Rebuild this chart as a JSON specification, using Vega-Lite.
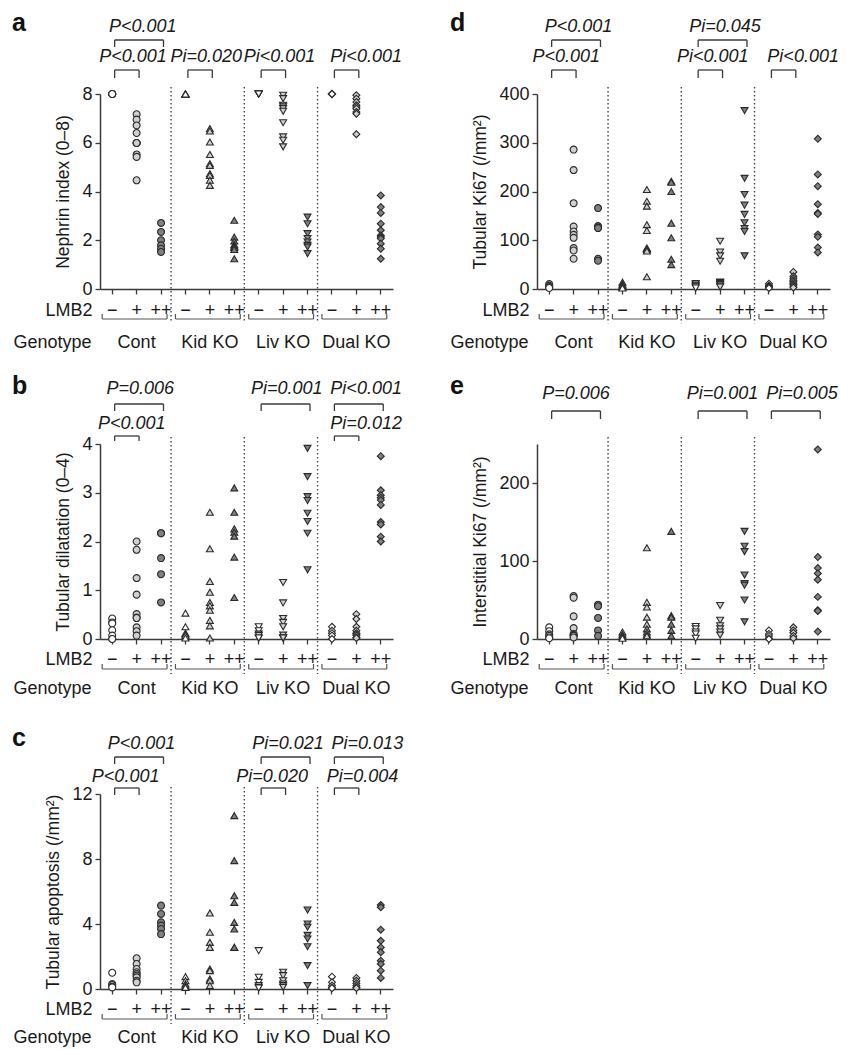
{
"$schema": "https://vega.github.io/schema/vega-lite/v6.json",
"padding": {"left": 12, "top": 11, "right": 5, "bottom": 5},
"background": "white",
"datasets": {
"geno": [{"genotype": "Cont"}, {"genotype": "Kid KO"}, {"genotype": "Liv KO"}, {"genotype": "Dual KO"}],
"ann": [
{"panel": "a", "from": "Cont|−", "to": "Cont|+", "label": "P<0.001"},
{"panel": "a", "from": "Cont|−", "to": "Cont|++", "label": "P<0.001"},
{"panel": "a", "from": "Kid KO|−", "to": "Kid KO|+", "label": "Pi=0.020"},
{"panel": "a", "from": "Liv KO|−", "to": "Liv KO|+", "label": "Pi<0.001"},
{"panel": "a", "from": "Dual KO|−", "to": "Dual KO|+", "label": "Pi<0.001"},
{"panel": "b", "from": "Cont|−", "to": "Cont|++", "label": "P=0.006"},
{"panel": "b", "from": "Cont|−", "to": "Cont|+", "label": "P<0.001"},
{"panel": "b", "from": "Liv KO|−", "to": "Liv KO|++", "label": "Pi=0.001"},
{"panel": "b", "from": "Dual KO|−", "to": "Dual KO|++", "label": "Pi<0.001"},
{"panel": "b", "from": "Dual KO|−", "to": "Dual KO|+", "label": "Pi=0.012"},
{"panel": "c", "from": "Cont|−", "to": "Cont|++", "label": "P<0.001"},
{"panel": "c", "from": "Cont|−", "to": "Cont|+", "label": "P<0.001"},
{"panel": "c", "from": "Liv KO|−", "to": "Liv KO|++", "label": "Pi=0.021"},
{"panel": "c", "from": "Liv KO|−", "to": "Liv KO|+", "label": "Pi=0.020"},
{"panel": "c", "from": "Dual KO|−", "to": "Dual KO|++", "label": "Pi=0.013"},
{"panel": "c", "from": "Dual KO|−", "to": "Dual KO|+", "label": "Pi=0.004"},
{"panel": "d", "from": "Cont|−", "to": "Cont|++", "label": "P<0.001"},
{"panel": "d", "from": "Cont|−", "to": "Cont|+", "label": "P<0.001"},
{"panel": "d", "from": "Liv KO|−", "to": "Liv KO|++", "label": "Pi=0.045"},
{"panel": "d", "from": "Liv KO|−", "to": "Liv KO|+", "label": "Pi<0.001"},
{"panel": "d", "from": "Dual KO|−", "to": "Dual KO|+", "label": "Pi<0.001"},
{"panel": "e", "from": "Cont|−", "to": "Cont|++", "label": "P=0.006"},
{"panel": "e", "from": "Liv KO|−", "to": "Liv KO|++", "label": "Pi=0.001"},
{"panel": "e", "from": "Dual KO|−", "to": "Dual KO|++", "label": "Pi=0.005"}
],
"pts": [
{"panel":"a","group":"Cont|−","value":8},{"panel":"a","group":"Cont|−","value":8},{"panel":"a","group":"Cont|−","value":8},{"panel":"a","group":"Cont|−","value":8},{"panel":"a","group":"Cont|−","value":8},
{"panel":"a","group":"Cont|+","value":7.17},{"panel":"a","group":"Cont|+","value":6.95},{"panel":"a","group":"Cont|+","value":6.71},{"panel":"a","group":"Cont|+","value":6.4},{"panel":"a","group":"Cont|+","value":5.99},{"panel":"a","group":"Cont|+","value":5.99},{"panel":"a","group":"Cont|+","value":5.99},{"panel":"a","group":"Cont|+","value":5.52},{"panel":"a","group":"Cont|+","value":5.42},{"panel":"a","group":"Cont|+","value":4.46},
{"panel":"a","group":"Cont|++","value":2.71},{"panel":"a","group":"Cont|++","value":2.34},{"panel":"a","group":"Cont|++","value":2.0},{"panel":"a","group":"Cont|++","value":1.79},{"panel":"a","group":"Cont|++","value":1.65},{"panel":"a","group":"Cont|++","value":1.52},
{"panel":"a","group":"Kid KO|−","value":8},{"panel":"a","group":"Kid KO|−","value":8},{"panel":"a","group":"Kid KO|−","value":8},{"panel":"a","group":"Kid KO|−","value":8},{"panel":"a","group":"Kid KO|−","value":8},
{"panel":"a","group":"Kid KO|+","value":6.58},{"panel":"a","group":"Kid KO|+","value":6.48},{"panel":"a","group":"Kid KO|+","value":6.03},{"panel":"a","group":"Kid KO|+","value":5.52},{"panel":"a","group":"Kid KO|+","value":5.14},{"panel":"a","group":"Kid KO|+","value":5.07},{"panel":"a","group":"Kid KO|+","value":4.73},{"panel":"a","group":"Kid KO|+","value":4.66},{"panel":"a","group":"Kid KO|+","value":4.46},{"panel":"a","group":"Kid KO|+","value":4.25},
{"panel":"a","group":"Kid KO|++","value":2.82},{"panel":"a","group":"Kid KO|++","value":2.13},{"panel":"a","group":"Kid KO|++","value":1.97},{"panel":"a","group":"Kid KO|++","value":1.82},{"panel":"a","group":"Kid KO|++","value":1.76},{"panel":"a","group":"Kid KO|++","value":1.7},{"panel":"a","group":"Kid KO|++","value":1.62},{"panel":"a","group":"Kid KO|++","value":1.24},
{"panel":"a","group":"Liv KO|−","value":8},{"panel":"a","group":"Liv KO|−","value":8},{"panel":"a","group":"Liv KO|−","value":8},{"panel":"a","group":"Liv KO|−","value":8},{"panel":"a","group":"Liv KO|−","value":8},
{"panel":"a","group":"Liv KO|+","value":7.95},{"panel":"a","group":"Liv KO|+","value":7.81},{"panel":"a","group":"Liv KO|+","value":7.54},{"panel":"a","group":"Liv KO|+","value":7.47},{"panel":"a","group":"Liv KO|+","value":7.4},{"panel":"a","group":"Liv KO|+","value":7.29},{"panel":"a","group":"Liv KO|+","value":6.82},{"panel":"a","group":"Liv KO|+","value":6.24},{"panel":"a","group":"Liv KO|+","value":6.1},{"panel":"a","group":"Liv KO|+","value":5.83},
{"panel":"a","group":"Liv KO|++","value":2.95},{"panel":"a","group":"Liv KO|++","value":2.68},{"panel":"a","group":"Liv KO|++","value":2.27},{"panel":"a","group":"Liv KO|++","value":2.07},{"panel":"a","group":"Liv KO|++","value":1.93},{"panel":"a","group":"Liv KO|++","value":1.79},{"panel":"a","group":"Liv KO|++","value":1.72},{"panel":"a","group":"Liv KO|++","value":1.45},
{"panel":"a","group":"Dual KO|−","value":8},{"panel":"a","group":"Dual KO|−","value":8},{"panel":"a","group":"Dual KO|−","value":8},{"panel":"a","group":"Dual KO|−","value":8},{"panel":"a","group":"Dual KO|−","value":8},
{"panel":"a","group":"Dual KO|+","value":7.95},{"panel":"a","group":"Dual KO|+","value":7.81},{"panel":"a","group":"Dual KO|+","value":7.67},{"panel":"a","group":"Dual KO|+","value":7.54},{"panel":"a","group":"Dual KO|+","value":7.47},{"panel":"a","group":"Dual KO|+","value":7.4},{"panel":"a","group":"Dual KO|+","value":7.26},{"panel":"a","group":"Dual KO|+","value":7.19},{"panel":"a","group":"Dual KO|+","value":6.35},
{"panel":"a","group":"Dual KO|++","value":3.84},{"panel":"a","group":"Dual KO|++","value":3.36},{"panel":"a","group":"Dual KO|++","value":3.12},{"panel":"a","group":"Dual KO|++","value":2.68},{"panel":"a","group":"Dual KO|++","value":2.41},{"panel":"a","group":"Dual KO|++","value":2.2},{"panel":"a","group":"Dual KO|++","value":2.13},{"panel":"a","group":"Dual KO|++","value":2.07},{"panel":"a","group":"Dual KO|++","value":1.86},{"panel":"a","group":"Dual KO|++","value":1.65},{"panel":"a","group":"Dual KO|++","value":1.24},

{"panel":"b","group":"Cont|−","value":0.42},{"panel":"b","group":"Cont|−","value":0.34},{"panel":"b","group":"Cont|−","value":0.32},{"panel":"b","group":"Cont|−","value":0.18},{"panel":"b","group":"Cont|−","value":0.07},{"panel":"b","group":"Cont|−","value":0},{"panel":"b","group":"Cont|−","value":0},
{"panel":"b","group":"Cont|+","value":2.0},{"panel":"b","group":"Cont|+","value":1.83},{"panel":"b","group":"Cont|+","value":1.25},{"panel":"b","group":"Cont|+","value":0.91},{"panel":"b","group":"Cont|+","value":0.51},{"panel":"b","group":"Cont|+","value":0.44},{"panel":"b","group":"Cont|+","value":0.43},{"panel":"b","group":"Cont|+","value":0.24},{"panel":"b","group":"Cont|+","value":0.16},{"panel":"b","group":"Cont|+","value":0.07},
{"panel":"b","group":"Cont|++","value":2.17},{"panel":"b","group":"Cont|++","value":2.17},{"panel":"b","group":"Cont|++","value":1.66},{"panel":"b","group":"Cont|++","value":1.33},{"panel":"b","group":"Cont|++","value":0.75},
{"panel":"b","group":"Kid KO|−","value":0.53},{"panel":"b","group":"Kid KO|−","value":0.25},{"panel":"b","group":"Kid KO|−","value":0.12},{"panel":"b","group":"Kid KO|−","value":0.1},{"panel":"b","group":"Kid KO|−","value":0.07},{"panel":"b","group":"Kid KO|−","value":0.02},
{"panel":"b","group":"Kid KO|+","value":2.6},{"panel":"b","group":"Kid KO|+","value":1.85},{"panel":"b","group":"Kid KO|+","value":1.18},{"panel":"b","group":"Kid KO|+","value":0.96},{"panel":"b","group":"Kid KO|+","value":0.75},{"panel":"b","group":"Kid KO|+","value":0.68},{"panel":"b","group":"Kid KO|+","value":0.59},{"panel":"b","group":"Kid KO|+","value":0.38},{"panel":"b","group":"Kid KO|+","value":0.27},{"panel":"b","group":"Kid KO|+","value":0.02},
{"panel":"b","group":"Kid KO|++","value":3.1},{"panel":"b","group":"Kid KO|++","value":2.6},{"panel":"b","group":"Kid KO|++","value":2.26},{"panel":"b","group":"Kid KO|++","value":2.19},{"panel":"b","group":"Kid KO|++","value":2.11},{"panel":"b","group":"Kid KO|++","value":1.68},{"panel":"b","group":"Kid KO|++","value":0.85},
{"panel":"b","group":"Liv KO|−","value":0.25},{"panel":"b","group":"Liv KO|−","value":0.17},{"panel":"b","group":"Liv KO|−","value":0.1},{"panel":"b","group":"Liv KO|−","value":0.07},{"panel":"b","group":"Liv KO|−","value":0.02},{"panel":"b","group":"Liv KO|−","value":0.02},
{"panel":"b","group":"Liv KO|+","value":1.16},{"panel":"b","group":"Liv KO|+","value":0.74},{"panel":"b","group":"Liv KO|+","value":0.42},{"panel":"b","group":"Liv KO|+","value":0.34},{"panel":"b","group":"Liv KO|+","value":0.25},{"panel":"b","group":"Liv KO|+","value":0.08},{"panel":"b","group":"Liv KO|+","value":0.02},{"panel":"b","group":"Liv KO|+","value":0.02},{"panel":"b","group":"Liv KO|+","value":0.02},
{"panel":"b","group":"Liv KO|++","value":3.91},{"panel":"b","group":"Liv KO|++","value":3.33},{"panel":"b","group":"Liv KO|++","value":2.92},{"panel":"b","group":"Liv KO|++","value":2.84},{"panel":"b","group":"Liv KO|++","value":2.58},{"panel":"b","group":"Liv KO|++","value":2.41},{"panel":"b","group":"Liv KO|++","value":2.17},{"panel":"b","group":"Liv KO|++","value":1.42},
{"panel":"b","group":"Dual KO|−","value":0.25},{"panel":"b","group":"Dual KO|−","value":0.17},{"panel":"b","group":"Dual KO|−","value":0.12},{"panel":"b","group":"Dual KO|−","value":0.07},{"panel":"b","group":"Dual KO|−","value":0},
{"panel":"b","group":"Dual KO|+","value":0.51},{"panel":"b","group":"Dual KO|+","value":0.41},{"panel":"b","group":"Dual KO|+","value":0.25},{"panel":"b","group":"Dual KO|+","value":0.17},{"panel":"b","group":"Dual KO|+","value":0.12},{"panel":"b","group":"Dual KO|+","value":0.1},{"panel":"b","group":"Dual KO|+","value":0.07},{"panel":"b","group":"Dual KO|+","value":0.03},{"panel":"b","group":"Dual KO|+","value":0.02},
{"panel":"b","group":"Dual KO|++","value":3.75},{"panel":"b","group":"Dual KO|++","value":3.05},{"panel":"b","group":"Dual KO|++","value":2.95},{"panel":"b","group":"Dual KO|++","value":2.9},{"panel":"b","group":"Dual KO|++","value":2.85},{"panel":"b","group":"Dual KO|++","value":2.75},{"panel":"b","group":"Dual KO|++","value":2.4},{"panel":"b","group":"Dual KO|++","value":2.35},{"panel":"b","group":"Dual KO|++","value":2.1},{"panel":"b","group":"Dual KO|++","value":2.0},

{"panel":"c","group":"Cont|−","value":1.0},{"panel":"c","group":"Cont|−","value":0.3},{"panel":"c","group":"Cont|−","value":0.25},{"panel":"c","group":"Cont|−","value":0.15},{"panel":"c","group":"Cont|−","value":0.1},
{"panel":"c","group":"Cont|+","value":1.89},{"panel":"c","group":"Cont|+","value":1.54},{"panel":"c","group":"Cont|+","value":1.23},{"panel":"c","group":"Cont|+","value":1.03},{"panel":"c","group":"Cont|+","value":0.92},{"panel":"c","group":"Cont|+","value":0.82},{"panel":"c","group":"Cont|+","value":0.72},{"panel":"c","group":"Cont|+","value":0.51},{"panel":"c","group":"Cont|+","value":0.41},
{"panel":"c","group":"Cont|++","value":5.13},{"panel":"c","group":"Cont|++","value":4.62},{"panel":"c","group":"Cont|++","value":4.1},{"panel":"c","group":"Cont|++","value":3.9},{"panel":"c","group":"Cont|++","value":3.69},{"panel":"c","group":"Cont|++","value":3.38},
{"panel":"c","group":"Kid KO|−","value":0.76},{"panel":"c","group":"Kid KO|−","value":0.51},{"panel":"c","group":"Kid KO|−","value":0.31},{"panel":"c","group":"Kid KO|−","value":0.21},{"panel":"c","group":"Kid KO|−","value":0.1},
{"panel":"c","group":"Kid KO|+","value":4.68},{"panel":"c","group":"Kid KO|+","value":3.49},{"panel":"c","group":"Kid KO|+","value":2.87},{"panel":"c","group":"Kid KO|+","value":2.56},{"panel":"c","group":"Kid KO|+","value":1.23},{"panel":"c","group":"Kid KO|+","value":1.13},{"panel":"c","group":"Kid KO|+","value":0.62},{"panel":"c","group":"Kid KO|+","value":0.51},{"panel":"c","group":"Kid KO|+","value":0.21},
{"panel":"c","group":"Kid KO|++","value":10.67},{"panel":"c","group":"Kid KO|++","value":7.9},{"panel":"c","group":"Kid KO|++","value":5.74},{"panel":"c","group":"Kid KO|++","value":5.33},{"panel":"c","group":"Kid KO|++","value":4.1},{"panel":"c","group":"Kid KO|++","value":3.69},{"panel":"c","group":"Kid KO|++","value":2.56},{"panel":"c","group":"Kid KO|++","value":2.56},
{"panel":"c","group":"Liv KO|−","value":2.36},{"panel":"c","group":"Liv KO|−","value":0.72},{"panel":"c","group":"Liv KO|−","value":0.41},{"panel":"c","group":"Liv KO|−","value":0.21},{"panel":"c","group":"Liv KO|−","value":0.1},{"panel":"c","group":"Liv KO|−","value":0.06},
{"panel":"c","group":"Liv KO|+","value":1.03},{"panel":"c","group":"Liv KO|+","value":0.82},{"panel":"c","group":"Liv KO|+","value":0.51},{"panel":"c","group":"Liv KO|+","value":0.31},{"panel":"c","group":"Liv KO|+","value":0.21},{"panel":"c","group":"Liv KO|+","value":0.1},
{"panel":"c","group":"Liv KO|++","value":4.86},{"panel":"c","group":"Liv KO|++","value":4.0},{"panel":"c","group":"Liv KO|++","value":3.8},{"panel":"c","group":"Liv KO|++","value":3.3},{"panel":"c","group":"Liv KO|++","value":3.08},{"panel":"c","group":"Liv KO|++","value":2.6},{"panel":"c","group":"Liv KO|++","value":1.44},{"panel":"c","group":"Liv KO|++","value":0.21},
{"panel":"c","group":"Dual KO|−","value":0.76},{"panel":"c","group":"Dual KO|−","value":0.41},{"panel":"c","group":"Dual KO|−","value":0.21},{"panel":"c","group":"Dual KO|−","value":0.1},{"panel":"c","group":"Dual KO|−","value":0.05},
{"panel":"c","group":"Dual KO|+","value":0.68},{"panel":"c","group":"Dual KO|+","value":0.51},{"panel":"c","group":"Dual KO|+","value":0.35},{"panel":"c","group":"Dual KO|+","value":0.21},{"panel":"c","group":"Dual KO|+","value":0.1},{"panel":"c","group":"Dual KO|+","value":0.06},
{"panel":"c","group":"Dual KO|++","value":5.17},{"panel":"c","group":"Dual KO|++","value":5.03},{"panel":"c","group":"Dual KO|++","value":3.65},{"panel":"c","group":"Dual KO|++","value":2.97},{"panel":"c","group":"Dual KO|++","value":2.56},{"panel":"c","group":"Dual KO|++","value":2.26},{"panel":"c","group":"Dual KO|++","value":1.74},{"panel":"c","group":"Dual KO|++","value":1.54},{"panel":"c","group":"Dual KO|++","value":1.13},{"panel":"c","group":"Dual KO|++","value":0.68},

{"panel":"d","group":"Cont|−","value":10},{"panel":"d","group":"Cont|−","value":7},{"panel":"d","group":"Cont|−","value":5},{"panel":"d","group":"Cont|−","value":4},{"panel":"d","group":"Cont|−","value":2},
{"panel":"d","group":"Cont|+","value":286},{"panel":"d","group":"Cont|+","value":244},{"panel":"d","group":"Cont|+","value":176},{"panel":"d","group":"Cont|+","value":128},{"panel":"d","group":"Cont|+","value":118},{"panel":"d","group":"Cont|+","value":111},{"panel":"d","group":"Cont|+","value":105},{"panel":"d","group":"Cont|+","value":84},{"panel":"d","group":"Cont|+","value":79},{"panel":"d","group":"Cont|+","value":62},
{"panel":"d","group":"Cont|++","value":166},{"panel":"d","group":"Cont|++","value":129},{"panel":"d","group":"Cont|++","value":126},{"panel":"d","group":"Cont|++","value":125},{"panel":"d","group":"Cont|++","value":62},{"panel":"d","group":"Cont|++","value":58},
{"panel":"d","group":"Kid KO|−","value":14},{"panel":"d","group":"Kid KO|−","value":10},{"panel":"d","group":"Kid KO|−","value":8},{"panel":"d","group":"Kid KO|−","value":6},{"panel":"d","group":"Kid KO|−","value":3},{"panel":"d","group":"Kid KO|−","value":2},
{"panel":"d","group":"Kid KO|+","value":204},{"panel":"d","group":"Kid KO|+","value":180},{"panel":"d","group":"Kid KO|+","value":170},{"panel":"d","group":"Kid KO|+","value":132},{"panel":"d","group":"Kid KO|+","value":120},{"panel":"d","group":"Kid KO|+","value":84},{"panel":"d","group":"Kid KO|+","value":83},{"panel":"d","group":"Kid KO|+","value":81},{"panel":"d","group":"Kid KO|+","value":78},{"panel":"d","group":"Kid KO|+","value":25},
{"panel":"d","group":"Kid KO|++","value":221},{"panel":"d","group":"Kid KO|++","value":219},{"panel":"d","group":"Kid KO|++","value":200},{"panel":"d","group":"Kid KO|++","value":135},{"panel":"d","group":"Kid KO|++","value":105},{"panel":"d","group":"Kid KO|++","value":61},{"panel":"d","group":"Kid KO|++","value":50},
{"panel":"d","group":"Liv KO|−","value":11},{"panel":"d","group":"Liv KO|−","value":8},{"panel":"d","group":"Liv KO|−","value":6},{"panel":"d","group":"Liv KO|−","value":4},{"panel":"d","group":"Liv KO|−","value":2},
{"panel":"d","group":"Liv KO|+","value":98},{"panel":"d","group":"Liv KO|+","value":76},{"panel":"d","group":"Liv KO|+","value":68},{"panel":"d","group":"Liv KO|+","value":57},{"panel":"d","group":"Liv KO|+","value":14},{"panel":"d","group":"Liv KO|+","value":13},{"panel":"d","group":"Liv KO|+","value":11},{"panel":"d","group":"Liv KO|+","value":9},{"panel":"d","group":"Liv KO|+","value":6},{"panel":"d","group":"Liv KO|+","value":4},
{"panel":"d","group":"Liv KO|++","value":366},{"panel":"d","group":"Liv KO|++","value":227},{"panel":"d","group":"Liv KO|++","value":194},{"panel":"d","group":"Liv KO|++","value":172},{"panel":"d","group":"Liv KO|++","value":153},{"panel":"d","group":"Liv KO|++","value":136},{"panel":"d","group":"Liv KO|++","value":124},{"panel":"d","group":"Liv KO|++","value":118},{"panel":"d","group":"Liv KO|++","value":68},
{"panel":"d","group":"Dual KO|−","value":11},{"panel":"d","group":"Dual KO|−","value":7},{"panel":"d","group":"Dual KO|−","value":5},{"panel":"d","group":"Dual KO|−","value":3},{"panel":"d","group":"Dual KO|−","value":2},
{"panel":"d","group":"Dual KO|+","value":35},{"panel":"d","group":"Dual KO|+","value":26},{"panel":"d","group":"Dual KO|+","value":22},{"panel":"d","group":"Dual KO|+","value":18},{"panel":"d","group":"Dual KO|+","value":15},{"panel":"d","group":"Dual KO|+","value":12},{"panel":"d","group":"Dual KO|+","value":9},{"panel":"d","group":"Dual KO|+","value":6},{"panel":"d","group":"Dual KO|+","value":3},
{"panel":"d","group":"Dual KO|++","value":308},{"panel":"d","group":"Dual KO|++","value":235},{"panel":"d","group":"Dual KO|++","value":211},{"panel":"d","group":"Dual KO|++","value":174},{"panel":"d","group":"Dual KO|++","value":156},{"panel":"d","group":"Dual KO|++","value":154},{"panel":"d","group":"Dual KO|++","value":112},{"panel":"d","group":"Dual KO|++","value":107},{"panel":"d","group":"Dual KO|++","value":85},{"panel":"d","group":"Dual KO|++","value":75},

{"panel":"e","group":"Cont|−","value":15},{"panel":"e","group":"Cont|−","value":10},{"panel":"e","group":"Cont|−","value":6},{"panel":"e","group":"Cont|−","value":4},{"panel":"e","group":"Cont|−","value":2},{"panel":"e","group":"Cont|−","value":1},
{"panel":"e","group":"Cont|+","value":55},{"panel":"e","group":"Cont|+","value":53},{"panel":"e","group":"Cont|+","value":29},{"panel":"e","group":"Cont|+","value":14},{"panel":"e","group":"Cont|+","value":6.5},{"panel":"e","group":"Cont|+","value":5},{"panel":"e","group":"Cont|+","value":4},{"panel":"e","group":"Cont|+","value":2},
{"panel":"e","group":"Cont|++","value":44},{"panel":"e","group":"Cont|++","value":42},{"panel":"e","group":"Cont|++","value":27},{"panel":"e","group":"Cont|++","value":11},{"panel":"e","group":"Cont|++","value":4},
{"panel":"e","group":"Kid KO|−","value":9},{"panel":"e","group":"Kid KO|−","value":6},{"panel":"e","group":"Kid KO|−","value":4},{"panel":"e","group":"Kid KO|−","value":3},{"panel":"e","group":"Kid KO|−","value":1},
{"panel":"e","group":"Kid KO|+","value":117},{"panel":"e","group":"Kid KO|+","value":47},{"panel":"e","group":"Kid KO|+","value":41},{"panel":"e","group":"Kid KO|+","value":28},{"panel":"e","group":"Kid KO|+","value":19},{"panel":"e","group":"Kid KO|+","value":13},{"panel":"e","group":"Kid KO|+","value":9},{"panel":"e","group":"Kid KO|+","value":6},{"panel":"e","group":"Kid KO|+","value":4},
{"panel":"e","group":"Kid KO|++","value":138},{"panel":"e","group":"Kid KO|++","value":30},{"panel":"e","group":"Kid KO|++","value":28},{"panel":"e","group":"Kid KO|++","value":19},{"panel":"e","group":"Kid KO|++","value":11},{"panel":"e","group":"Kid KO|++","value":4},
{"panel":"e","group":"Liv KO|−","value":16},{"panel":"e","group":"Liv KO|−","value":13},{"panel":"e","group":"Liv KO|−","value":9},{"panel":"e","group":"Liv KO|−","value":6.5},{"panel":"e","group":"Liv KO|−","value":1},
{"panel":"e","group":"Liv KO|+","value":43},{"panel":"e","group":"Liv KO|+","value":24},{"panel":"e","group":"Liv KO|+","value":17},{"panel":"e","group":"Liv KO|+","value":13},{"panel":"e","group":"Liv KO|+","value":9},{"panel":"e","group":"Liv KO|+","value":5},
{"panel":"e","group":"Liv KO|++","value":138},{"panel":"e","group":"Liv KO|++","value":119},{"panel":"e","group":"Liv KO|++","value":112},{"panel":"e","group":"Liv KO|++","value":82},{"panel":"e","group":"Liv KO|++","value":71},{"panel":"e","group":"Liv KO|++","value":69},{"panel":"e","group":"Liv KO|++","value":50},{"panel":"e","group":"Liv KO|++","value":22},
{"panel":"e","group":"Dual KO|−","value":11},{"panel":"e","group":"Dual KO|−","value":6.5},{"panel":"e","group":"Dual KO|−","value":4},{"panel":"e","group":"Dual KO|−","value":1},{"panel":"e","group":"Dual KO|−","value":0},
{"panel":"e","group":"Dual KO|+","value":15},{"panel":"e","group":"Dual KO|+","value":11},{"panel":"e","group":"Dual KO|+","value":8},{"panel":"e","group":"Dual KO|+","value":4},{"panel":"e","group":"Dual KO|+","value":1},
{"panel":"e","group":"Dual KO|++","value":243},{"panel":"e","group":"Dual KO|++","value":105},{"panel":"e","group":"Dual KO|++","value":91},{"panel":"e","group":"Dual KO|++","value":84},{"panel":"e","group":"Dual KO|++","value":76},{"panel":"e","group":"Dual KO|++","value":54},{"panel":"e","group":"Dual KO|++","value":37},{"panel":"e","group":"Dual KO|++","value":36},{"panel":"e","group":"Dual KO|++","value":9.5}
]
},
"columns": 2,
"bounds": "flush",
"spacing": {"row": 155, "column": 144},
"concat": [
{
"title": {"text": "a", "dx": -88, "offset": -18.5},
"width": 293, "height": 195,
"resolve": {"scale": {"x": "independent"}, "axis": {"x": "independent"}},
"layer": [
{"layer": [
{"data": {"name": "pts"}, "transform": [{"filter": "datum.panel === 'a'"}],
"mark": {"type": "point", "filled": true, "stroke": "#2a2a2a", "strokeWidth": 1.1, "size": 48, "opacity": 1},
"encoding": {
"x": {"field": "group", "type": "nominal", "scale": {"type": "band", "domain": ["Cont|−","Cont|+","Cont|++","Kid KO|−","Kid KO|+","Kid KO|++","Liv KO|−","Liv KO|+","Liv KO|++","Dual KO|−","Dual KO|+","Dual KO|++"], "paddingInner": 0, "paddingOuter": 0},
"axis": {"orient": "bottom", "title": "LMB2", "labelExpr": "split(datum.label, '|')[1]", "labelAngle": 0, "labelPadding": 16, "labelBaseline": "middle", "titleX": -8, "titleY": 21, "titleAlign": "right", "titleBaseline": "middle", "titleAnchor": "start"}},
"y": {"field": "value", "type": "quantitative", "scale": {"domain": [0, 8], "nice": false}, "axis": {"values": [0, 2, 4, 6, 8], "title": "Nephrin index (0–8)"}},
"shape": {"field": "group", "type": "nominal", "legend": null, "scale": {"domain": ["Cont|−","Cont|+","Cont|++","Kid KO|−","Kid KO|+","Kid KO|++","Liv KO|−","Liv KO|+","Liv KO|++","Dual KO|−","Dual KO|+","Dual KO|++"], "range": ["circle","circle","circle","triangle-up","triangle-up","triangle-up","triangle-down","triangle-down","triangle-down","diamond","diamond","diamond"]}},
"fill": {"field": "group", "type": "nominal", "legend": null, "scale": {"domain": ["Cont|−","Cont|+","Cont|++","Kid KO|−","Kid KO|+","Kid KO|++","Liv KO|−","Liv KO|+","Liv KO|++","Dual KO|−","Dual KO|+","Dual KO|++"], "range": ["#ffffff","#d0d0d0","#808080","#ffffff","#d0d0d0","#808080","#ffffff","#d0d0d0","#808080","#ffffff","#d0d0d0","#808080"]}}
}},
{"data": {"name": "ann"}, "transform": [{"filter": "datum.panel === 'a' && indexof(datum.to, '++') < 0"}],
"layer": [
{"mark": "rule", "encoding": {"x": {"field": "from", "type": "nominal", "bandPosition": 0.6}, "x2": {"field": "to", "bandPosition": 0.6}, "y": {"datum": 8.985}}},
{"mark": "rule", "encoding": {"x": {"field": "from", "type": "nominal", "bandPosition": 0.6}, "y": {"datum": 8.985}, "y2": {"datum": 8.656}}},
{"mark": "rule", "encoding": {"x": {"field": "to", "type": "nominal", "bandPosition": 0.6}, "y": {"datum": 8.985}, "y2": {"datum": 8.656}}},
{"transform": [{"filter": "datum.from !== 'Dual KO|−'"}], "mark": {"type": "text", "align": "center", "baseline": "middle"}, "encoding": {"x": {"field": "from", "type": "nominal", "bandPosition": 1.35}, "y": {"datum": 9.518}, "text": {"field": "label"}}},
{"transform": [{"filter": "datum.from === 'Dual KO|−'"}], "mark": {"type": "text", "align": "center", "baseline": "middle"}, "encoding": {"x": {"field": "from", "type": "nominal", "bandPosition": 1.9}, "y": {"datum": 9.518}, "text": {"field": "label"}}}
]},
{"data": {"name": "ann"}, "transform": [{"filter": "datum.panel === 'a' && indexof(datum.to, '++') >= 0"}],
"layer": [
{"mark": "rule", "encoding": {"x": {"field": "from", "type": "nominal", "bandPosition": 0.6}, "x2": {"field": "to", "bandPosition": 0.6}, "y": {"datum": 10.215}}},
{"mark": "rule", "encoding": {"x": {"field": "from", "type": "nominal", "bandPosition": 0.6}, "y": {"datum": 10.215}, "y2": {"datum": 9.928}}},
{"mark": "rule", "encoding": {"x": {"field": "to", "type": "nominal", "bandPosition": 0.6}, "y": {"datum": 10.215}, "y2": {"datum": 9.928}}},
{"mark": {"type": "text", "align": "center", "baseline": "middle"}, "encoding": {"x": {"field": "from", "type": "nominal", "bandPosition": 1.75}, "y": {"datum": 10.749}, "text": {"field": "label"}}}
]}
]},
{"data": {"name": "geno"}, "layer": [
{"mark": {"type": "rule", "stroke": "#555", "strokeWidth": 1.2}, "encoding": {"x": {"field": "genotype", "type": "nominal", "bandPosition": 0.03, "scale": {"type": "band", "domain": ["Cont", "Kid KO", "Liv KO", "Dual KO"], "paddingInner": 0, "paddingOuter": 0}, "axis": {"orient": "bottom", "title": "Genotype", "domain": false, "ticks": false, "tickSize": 0, "labelAngle": 0, "labelPadding": 53, "labelBaseline": "middle", "titleX": -87, "titleY": 53, "titleAlign": "left", "titleBaseline": "middle", "titleAnchor": "start"}}, "x2": {"field": "genotype", "bandPosition": 0.915}, "y": {"datum": -1.23}}},
{"mark": {"type": "rule", "stroke": "#555", "strokeWidth": 1.2}, "encoding": {"x": {"field": "genotype", "type": "nominal", "bandPosition": 0.03}, "y": {"datum": -1.23}, "y2": {"datum": -1.025}}},
{"mark": {"type": "rule", "stroke": "#555", "strokeWidth": 1.2}, "encoding": {"x": {"field": "genotype", "type": "nominal", "bandPosition": 0.915}, "y": {"datum": -1.23}, "y2": {"datum": -1.025}}},
{"transform": [{"filter": "datum.genotype !== 'Cont'"}], "mark": {"type": "rule", "strokeDash": [1.5, 2.5], "strokeWidth": 1.4, "stroke": "#444"}, "encoding": {"x": {"field": "genotype", "type": "nominal", "bandPosition": -0.03}, "y": {"datum": 8.287}, "y2": {"datum": -1.4}}}
]}
]
},
{
"title": {"text": "d", "dx": -87, "offset": -18.5},
"width": 293, "height": 195,
"resolve": {"scale": {"x": "independent"}, "axis": {"x": "independent"}},
"layer": [
{"layer": [
{"data": {"name": "pts"}, "transform": [{"filter": "datum.panel === 'd'"}],
"mark": {"type": "point", "filled": true, "stroke": "#2a2a2a", "strokeWidth": 1.1, "size": 48, "opacity": 1},
"encoding": {
"x": {"field": "group", "type": "nominal", "scale": {"type": "band", "domain": ["Cont|−","Cont|+","Cont|++","Kid KO|−","Kid KO|+","Kid KO|++","Liv KO|−","Liv KO|+","Liv KO|++","Dual KO|−","Dual KO|+","Dual KO|++"], "paddingInner": 0, "paddingOuter": 0},
"axis": {"orient": "bottom", "title": "LMB2", "labelExpr": "split(datum.label, '|')[1]", "labelAngle": 0, "labelPadding": 16, "labelBaseline": "middle", "titleX": -8, "titleY": 21, "titleAlign": "right", "titleBaseline": "middle", "titleAnchor": "start"}},
"y": {"field": "value", "type": "quantitative", "scale": {"domain": [0, 400], "nice": false}, "axis": {"values": [0, 100, 200, 300, 400], "title": "Tubular Ki67 (/mm²)"}},
"shape": {"field": "group", "type": "nominal", "legend": null, "scale": {"domain": ["Cont|−","Cont|+","Cont|++","Kid KO|−","Kid KO|+","Kid KO|++","Liv KO|−","Liv KO|+","Liv KO|++","Dual KO|−","Dual KO|+","Dual KO|++"], "range": ["circle","circle","circle","triangle-up","triangle-up","triangle-up","triangle-down","triangle-down","triangle-down","diamond","diamond","diamond"]}},
"fill": {"field": "group", "type": "nominal", "legend": null, "scale": {"domain": ["Cont|−","Cont|+","Cont|++","Kid KO|−","Kid KO|+","Kid KO|++","Liv KO|−","Liv KO|+","Liv KO|++","Dual KO|−","Dual KO|+","Dual KO|++"], "range": ["#ffffff","#d0d0d0","#808080","#ffffff","#d0d0d0","#808080","#ffffff","#d0d0d0","#808080","#ffffff","#d0d0d0","#808080"]}}
}},
{"data": {"name": "ann"}, "transform": [{"filter": "datum.panel === 'd' && indexof(datum.to, '++') < 0"}],
"layer": [
{"mark": "rule", "encoding": {"x": {"field": "from", "type": "nominal", "bandPosition": 0.6}, "x2": {"field": "to", "bandPosition": 0.6}, "y": {"datum": 449.23}}},
{"mark": "rule", "encoding": {"x": {"field": "from", "type": "nominal", "bandPosition": 0.6}, "y": {"datum": 449.23}, "y2": {"datum": 432.82}}},
{"mark": "rule", "encoding": {"x": {"field": "to", "type": "nominal", "bandPosition": 0.6}, "y": {"datum": 449.23}, "y2": {"datum": 432.82}}},
{"transform": [{"filter": "datum.from !== 'Dual KO|−'"}], "mark": {"type": "text", "align": "center", "baseline": "middle"}, "encoding": {"x": {"field": "from", "type": "nominal", "bandPosition": 1.2}, "y": {"datum": 475.9}, "text": {"field": "label"}}},
{"transform": [{"filter": "datum.from === 'Dual KO|−'"}], "mark": {"type": "text", "align": "center", "baseline": "middle"}, "encoding": {"x": {"field": "from", "type": "nominal", "bandPosition": 1.9}, "y": {"datum": 475.9}, "text": {"field": "label"}}}
]},
{"data": {"name": "ann"}, "transform": [{"filter": "datum.panel === 'd' && indexof(datum.to, '++') >= 0"}],
"layer": [
{"mark": "rule", "encoding": {"x": {"field": "from", "type": "nominal", "bandPosition": 0.6}, "x2": {"field": "to", "bandPosition": 0.6}, "y": {"datum": 510.77}}},
{"mark": "rule", "encoding": {"x": {"field": "from", "type": "nominal", "bandPosition": 0.6}, "y": {"datum": 510.77}, "y2": {"datum": 496.41}}},
{"mark": "rule", "encoding": {"x": {"field": "to", "type": "nominal", "bandPosition": 0.6}, "y": {"datum": 510.77}, "y2": {"datum": 496.41}}},
{"mark": {"type": "text", "align": "center", "baseline": "middle"}, "encoding": {"x": {"field": "from", "type": "nominal", "bandPosition": 1.7}, "y": {"datum": 537.44}, "text": {"field": "label"}}}
]}
]},
{"data": {"name": "geno"}, "layer": [
{"mark": {"type": "rule", "stroke": "#555", "strokeWidth": 1.2}, "encoding": {"x": {"field": "genotype", "type": "nominal", "bandPosition": 0.03, "scale": {"type": "band", "domain": ["Cont", "Kid KO", "Liv KO", "Dual KO"], "paddingInner": 0, "paddingOuter": 0}, "axis": {"orient": "bottom", "title": "Genotype", "domain": false, "ticks": false, "tickSize": 0, "labelAngle": 0, "labelPadding": 53, "labelBaseline": "middle", "titleX": -87, "titleY": 53, "titleAlign": "left", "titleBaseline": "middle", "titleAnchor": "start"}}, "x2": {"field": "genotype", "bandPosition": 0.915}, "y": {"datum": -61.5}}},
{"mark": {"type": "rule", "stroke": "#555", "strokeWidth": 1.2}, "encoding": {"x": {"field": "genotype", "type": "nominal", "bandPosition": 0.03}, "y": {"datum": -61.5}, "y2": {"datum": -51.3}}},
{"mark": {"type": "rule", "stroke": "#555", "strokeWidth": 1.2}, "encoding": {"x": {"field": "genotype", "type": "nominal", "bandPosition": 0.915}, "y": {"datum": -61.5}, "y2": {"datum": -51.3}}},
{"transform": [{"filter": "datum.genotype !== 'Cont'"}], "mark": {"type": "rule", "strokeDash": [1.5, 2.5], "strokeWidth": 1.4, "stroke": "#444"}, "encoding": {"x": {"field": "genotype", "type": "nominal", "bandPosition": -0.03}, "y": {"datum": 414.36}, "y2": {"datum": -70}}}
]}
]
},
{
"title": {"text": "b", "dx": -88, "offset": -18.5},
"width": 293, "height": 195,
"resolve": {"scale": {"x": "independent"}, "axis": {"x": "independent"}},
"layer": [
{"layer": [
{"data": {"name": "pts"}, "transform": [{"filter": "datum.panel === 'b'"}],
"mark": {"type": "point", "filled": true, "stroke": "#2a2a2a", "strokeWidth": 1.1, "size": 48, "opacity": 1},
"encoding": {
"x": {"field": "group", "type": "nominal", "scale": {"type": "band", "domain": ["Cont|−","Cont|+","Cont|++","Kid KO|−","Kid KO|+","Kid KO|++","Liv KO|−","Liv KO|+","Liv KO|++","Dual KO|−","Dual KO|+","Dual KO|++"], "paddingInner": 0, "paddingOuter": 0},
"axis": {"orient": "bottom", "title": "LMB2", "labelExpr": "split(datum.label, '|')[1]", "labelAngle": 0, "labelPadding": 15, "labelBaseline": "middle", "titleX": -8, "titleY": 20, "titleAlign": "right", "titleBaseline": "middle", "titleAnchor": "start"}},
"y": {"field": "value", "type": "quantitative", "scale": {"domain": [0, 4], "nice": false}, "axis": {"values": [0, 1, 2, 3, 4], "title": "Tubular dilatation (0–4)"}},
"shape": {"field": "group", "type": "nominal", "legend": null, "scale": {"domain": ["Cont|−","Cont|+","Cont|++","Kid KO|−","Kid KO|+","Kid KO|++","Liv KO|−","Liv KO|+","Liv KO|++","Dual KO|−","Dual KO|+","Dual KO|++"], "range": ["circle","circle","circle","triangle-up","triangle-up","triangle-up","triangle-down","triangle-down","triangle-down","diamond","diamond","diamond"]}},
"fill": {"field": "group", "type": "nominal", "legend": null, "scale": {"domain": ["Cont|−","Cont|+","Cont|++","Kid KO|−","Kid KO|+","Kid KO|++","Liv KO|−","Liv KO|+","Liv KO|++","Dual KO|−","Dual KO|+","Dual KO|++"], "range": ["#ffffff","#d0d0d0","#808080","#ffffff","#d0d0d0","#808080","#ffffff","#d0d0d0","#808080","#ffffff","#d0d0d0","#808080"]}}
}},
{"data": {"name": "ann"}, "transform": [{"filter": "datum.panel === 'b' && indexof(datum.to, '++') < 0"}],
"layer": [
{"mark": "rule", "encoding": {"x": {"field": "from", "type": "nominal", "bandPosition": 0.6}, "x2": {"field": "to", "bandPosition": 0.6}, "y": {"datum": 4.164}}},
{"mark": "rule", "encoding": {"x": {"field": "from", "type": "nominal", "bandPosition": 0.6}, "y": {"datum": 4.164}, "y2": {"datum": 4.062}}},
{"mark": "rule", "encoding": {"x": {"field": "to", "type": "nominal", "bandPosition": 0.6}, "y": {"datum": 4.164}, "y2": {"datum": 4.062}}},
{"transform": [{"filter": "datum.from !== 'Dual KO|−'"}], "mark": {"type": "text", "align": "center", "baseline": "middle"}, "encoding": {"x": {"field": "from", "type": "nominal", "bandPosition": 1.3}, "y": {"datum": 4.41}, "text": {"field": "label"}}},
{"transform": [{"filter": "datum.from === 'Dual KO|−'"}], "mark": {"type": "text", "align": "center", "baseline": "middle"}, "encoding": {"x": {"field": "from", "type": "nominal", "bandPosition": 1.9}, "y": {"datum": 4.41}, "text": {"field": "label"}}}
]},
{"data": {"name": "ann"}, "transform": [{"filter": "datum.panel === 'b' && indexof(datum.to, '++') >= 0"}],
"layer": [
{"mark": "rule", "encoding": {"x": {"field": "from", "type": "nominal", "bandPosition": 0.6}, "x2": {"field": "to", "bandPosition": 0.6}, "y": {"datum": 4.821}}},
{"mark": "rule", "encoding": {"x": {"field": "from", "type": "nominal", "bandPosition": 0.6}, "y": {"datum": 4.821}, "y2": {"datum": 4.677}}},
{"mark": "rule", "encoding": {"x": {"field": "to", "type": "nominal", "bandPosition": 0.6}, "y": {"datum": 4.821}, "y2": {"datum": 4.677}}},
{"transform": [{"filter": "datum.from !== 'Dual KO|−'"}], "mark": {"type": "text", "align": "center", "baseline": "middle"}, "encoding": {"x": {"field": "from", "type": "nominal", "bandPosition": 1.65}, "y": {"datum": 5.128}, "text": {"field": "label"}}},
{"transform": [{"filter": "datum.from === 'Dual KO|−'"}], "mark": {"type": "text", "align": "center", "baseline": "middle"}, "encoding": {"x": {"field": "from", "type": "nominal", "bandPosition": 1.9}, "y": {"datum": 5.128}, "text": {"field": "label"}}}
]}
]},
{"data": {"name": "geno"}, "layer": [
{"mark": {"type": "rule", "stroke": "#555", "strokeWidth": 1.2}, "encoding": {"x": {"field": "genotype", "type": "nominal", "bandPosition": 0.03, "scale": {"type": "band", "domain": ["Cont", "Kid KO", "Liv KO", "Dual KO"], "paddingInner": 0, "paddingOuter": 0}, "axis": {"orient": "bottom", "title": "Genotype", "domain": false, "ticks": false, "tickSize": 0, "labelAngle": 0, "labelPadding": 49, "labelBaseline": "middle", "titleX": -87, "titleY": 49, "titleAlign": "left", "titleBaseline": "middle", "titleAnchor": "start"}}, "x2": {"field": "genotype", "bandPosition": 0.915}, "y": {"datum": -0.615}}},
{"mark": {"type": "rule", "stroke": "#555", "strokeWidth": 1.2}, "encoding": {"x": {"field": "genotype", "type": "nominal", "bandPosition": 0.03}, "y": {"datum": -0.615}, "y2": {"datum": -0.513}}},
{"mark": {"type": "rule", "stroke": "#555", "strokeWidth": 1.2}, "encoding": {"x": {"field": "genotype", "type": "nominal", "bandPosition": 0.915}, "y": {"datum": -0.615}, "y2": {"datum": -0.513}}},
{"transform": [{"filter": "datum.genotype !== 'Cont'"}], "mark": {"type": "rule", "strokeDash": [1.5, 2.5], "strokeWidth": 1.4, "stroke": "#444"}, "encoding": {"x": {"field": "genotype", "type": "nominal", "bandPosition": -0.03}, "y": {"datum": 4.144}, "y2": {"datum": -0.718}}}
]}
]
},
{
"title": {"text": "e", "dx": -87, "offset": -13.5},
"width": 293, "height": 195,
"resolve": {"scale": {"x": "independent"}, "axis": {"x": "independent"}},
"layer": [
{"layer": [
{"data": {"name": "pts"}, "transform": [{"filter": "datum.panel === 'e'"}],
"mark": {"type": "point", "filled": true, "stroke": "#2a2a2a", "strokeWidth": 1.1, "size": 48, "opacity": 1},
"encoding": {
"x": {"field": "group", "type": "nominal", "scale": {"type": "band", "domain": ["Cont|−","Cont|+","Cont|++","Kid KO|−","Kid KO|+","Kid KO|++","Liv KO|−","Liv KO|+","Liv KO|++","Dual KO|−","Dual KO|+","Dual KO|++"], "paddingInner": 0, "paddingOuter": 0},
"axis": {"orient": "bottom", "title": "LMB2", "labelExpr": "split(datum.label, '|')[1]", "labelAngle": 0, "labelPadding": 15, "labelBaseline": "middle", "titleX": -8, "titleY": 20, "titleAlign": "right", "titleBaseline": "middle", "titleAnchor": "start"}},
"y": {"field": "value", "type": "quantitative", "scale": {"domain": [0, 250], "nice": false}, "axis": {"values": [0, 50, 100, 150, 200, 250], "title": "Interstitial Ki67 (/mm²)"}},
"shape": {"field": "group", "type": "nominal", "legend": null, "scale": {"domain": ["Cont|−","Cont|+","Cont|++","Kid KO|−","Kid KO|+","Kid KO|++","Liv KO|−","Liv KO|+","Liv KO|++","Dual KO|−","Dual KO|+","Dual KO|++"], "range": ["circle","circle","circle","triangle-up","triangle-up","triangle-up","triangle-down","triangle-down","triangle-down","diamond","diamond","diamond"]}},
"fill": {"field": "group", "type": "nominal", "legend": null, "scale": {"domain": ["Cont|−","Cont|+","Cont|++","Kid KO|−","Kid KO|+","Kid KO|++","Liv KO|−","Liv KO|+","Liv KO|++","Dual KO|−","Dual KO|+","Dual KO|++"], "range": ["#ffffff","#d0d0d0","#808080","#ffffff","#d0d0d0","#808080","#ffffff","#d0d0d0","#808080","#ffffff","#d0d0d0","#808080"]}}
}},
{"data": {"name": "ann"}, "transform": [{"filter": "datum.panel === 'e' && indexof(datum.to, '++') >= 0"}],
"layer": [
{"mark": "rule", "encoding": {"x": {"field": "from", "type": "nominal", "bandPosition": 0.6}, "x2": {"field": "to", "bandPosition": 0.6}, "y": {"datum": 292.3}}},
{"mark": "rule", "encoding": {"x": {"field": "from", "type": "nominal", "bandPosition": 0.6}, "y": {"datum": 292.3}, "y2": {"datum": 282.05}}},
{"mark": "rule", "encoding": {"x": {"field": "to", "type": "nominal", "bandPosition": 0.6}, "y": {"datum": 292.3}, "y2": {"datum": 282.05}}},
{"transform": [{"filter": "datum.from !== 'Dual KO|−'"}], "mark": {"type": "text", "align": "center", "baseline": "middle"}, "encoding": {"x": {"field": "from", "type": "nominal", "bandPosition": 1.6}, "y": {"datum": 314.1}, "text": {"field": "label"}}},
{"transform": [{"filter": "datum.from === 'Dual KO|−'"}], "mark": {"type": "text", "align": "center", "baseline": "middle"}, "encoding": {"x": {"field": "from", "type": "nominal", "bandPosition": 1.85}, "y": {"datum": 314.1}, "text": {"field": "label"}}}
]}
]},
{"data": {"name": "geno"}, "layer": [
{"mark": {"type": "rule", "stroke": "#555", "strokeWidth": 1.2}, "encoding": {"x": {"field": "genotype", "type": "nominal", "bandPosition": 0.03, "scale": {"type": "band", "domain": ["Cont", "Kid KO", "Liv KO", "Dual KO"], "paddingInner": 0, "paddingOuter": 0}, "axis": {"orient": "bottom", "title": "Genotype", "domain": false, "ticks": false, "tickSize": 0, "labelAngle": 0, "labelPadding": 49, "labelBaseline": "middle", "titleX": -87, "titleY": 49, "titleAlign": "left", "titleBaseline": "middle", "titleAnchor": "start"}}, "x2": {"field": "genotype", "bandPosition": 0.915}, "y": {"datum": -38.46}}},
{"mark": {"type": "rule", "stroke": "#555", "strokeWidth": 1.2}, "encoding": {"x": {"field": "genotype", "type": "nominal", "bandPosition": 0.03}, "y": {"datum": -38.46}, "y2": {"datum": -32.05}}},
{"mark": {"type": "rule", "stroke": "#555", "strokeWidth": 1.2}, "encoding": {"x": {"field": "genotype", "type": "nominal", "bandPosition": 0.915}, "y": {"datum": -38.46}, "y2": {"datum": -32.05}}},
{"transform": [{"filter": "datum.genotype !== 'Cont'"}], "mark": {"type": "rule", "strokeDash": [1.5, 2.5], "strokeWidth": 1.4, "stroke": "#444"}, "encoding": {"x": {"field": "genotype", "type": "nominal", "bandPosition": -0.03}, "y": {"datum": 258.97}, "y2": {"datum": -44.87}}}
]}
]
},
{
"title": {"text": "c", "dx": -88, "offset": -16.5},
"width": 293, "height": 195,
"resolve": {"scale": {"x": "independent"}, "axis": {"x": "independent"}},
"layer": [
{"layer": [
{"data": {"name": "pts"}, "transform": [{"filter": "datum.panel === 'c'"}],
"mark": {"type": "point", "filled": true, "stroke": "#2a2a2a", "strokeWidth": 1.1, "size": 48, "opacity": 1},
"encoding": {
"x": {"field": "group", "type": "nominal", "scale": {"type": "band", "domain": ["Cont|−","Cont|+","Cont|++","Kid KO|−","Kid KO|+","Kid KO|++","Liv KO|−","Liv KO|+","Liv KO|++","Dual KO|−","Dual KO|+","Dual KO|++"], "paddingInner": 0, "paddingOuter": 0},
"axis": {"orient": "bottom", "title": "LMB2", "labelExpr": "split(datum.label, '|')[1]", "labelAngle": 0, "labelPadding": 15, "labelBaseline": "middle", "titleX": -8, "titleY": 20, "titleAlign": "right", "titleBaseline": "middle", "titleAnchor": "start"}},
"y": {"field": "value", "type": "quantitative", "scale": {"domain": [0, 12], "nice": false}, "axis": {"values": [0, 2, 4, 6, 8, 10, 12], "labelExpr": "datum.value % 4 === 0 ? datum.label : ''", "title": "Tubular apoptosis (/mm²)"}},
"shape": {"field": "group", "type": "nominal", "legend": null, "scale": {"domain": ["Cont|−","Cont|+","Cont|++","Kid KO|−","Kid KO|+","Kid KO|++","Liv KO|−","Liv KO|+","Liv KO|++","Dual KO|−","Dual KO|+","Dual KO|++"], "range": ["circle","circle","circle","triangle-up","triangle-up","triangle-up","triangle-down","triangle-down","triangle-down","diamond","diamond","diamond"]}},
"fill": {"field": "group", "type": "nominal", "legend": null, "scale": {"domain": ["Cont|−","Cont|+","Cont|++","Kid KO|−","Kid KO|+","Kid KO|++","Liv KO|−","Liv KO|+","Liv KO|++","Dual KO|−","Dual KO|+","Dual KO|++"], "range": ["#ffffff","#d0d0d0","#808080","#ffffff","#d0d0d0","#808080","#ffffff","#d0d0d0","#808080","#ffffff","#d0d0d0","#808080"]}}
}},
{"data": {"name": "ann"}, "transform": [{"filter": "datum.panel === 'c' && indexof(datum.to, '++') < 0"}],
"layer": [
{"mark": "rule", "encoding": {"x": {"field": "from", "type": "nominal", "bandPosition": 0.6}, "x2": {"field": "to", "bandPosition": 0.6}, "y": {"datum": 12.369}}},
{"mark": "rule", "encoding": {"x": {"field": "from", "type": "nominal", "bandPosition": 0.6}, "y": {"datum": 12.369}, "y2": {"datum": 11.938}}},
{"mark": "rule", "encoding": {"x": {"field": "to", "type": "nominal", "bandPosition": 0.6}, "y": {"datum": 12.369}, "y2": {"datum": 11.938}}},
{"transform": [{"filter": "datum.from !== 'Dual KO|−'"}], "mark": {"type": "text", "align": "center", "baseline": "middle"}, "encoding": {"x": {"field": "from", "type": "nominal", "bandPosition": 1.05}, "y": {"datum": 13.046}, "text": {"field": "label"}}},
{"transform": [{"filter": "datum.from === 'Dual KO|−'"}], "mark": {"type": "text", "align": "center", "baseline": "middle"}, "encoding": {"x": {"field": "from", "type": "nominal", "bandPosition": 1.75}, "y": {"datum": 13.046}, "text": {"field": "label"}}}
]},
{"data": {"name": "ann"}, "transform": [{"filter": "datum.panel === 'c' && indexof(datum.to, '++') >= 0"}],
"layer": [
{"mark": "rule", "encoding": {"x": {"field": "from", "type": "nominal", "bandPosition": 0.6}, "x2": {"field": "to", "bandPosition": 0.6}, "y": {"datum": 14.277}}},
{"mark": "rule", "encoding": {"x": {"field": "from", "type": "nominal", "bandPosition": 0.6}, "y": {"datum": 14.277}, "y2": {"datum": 13.846}}},
{"mark": "rule", "encoding": {"x": {"field": "to", "type": "nominal", "bandPosition": 0.6}, "y": {"datum": 14.277}, "y2": {"datum": 13.846}}},
{"transform": [{"filter": "datum.from !== 'Dual KO|−'"}], "mark": {"type": "text", "align": "center", "baseline": "middle"}, "encoding": {"x": {"field": "from", "type": "nominal", "bandPosition": 1.7}, "y": {"datum": 15.077}, "text": {"field": "label"}}},
{"transform": [{"filter": "datum.from === 'Dual KO|−'"}], "mark": {"type": "text", "align": "center", "baseline": "middle"}, "encoding": {"x": {"field": "from", "type": "nominal", "bandPosition": 1.95}, "y": {"datum": 15.077}, "text": {"field": "label"}}}
]}
]},
{"data": {"name": "geno"}, "layer": [
{"mark": {"type": "rule", "stroke": "#555", "strokeWidth": 1.2}, "encoding": {"x": {"field": "genotype", "type": "nominal", "bandPosition": 0.03, "scale": {"type": "band", "domain": ["Cont", "Kid KO", "Liv KO", "Dual KO"], "paddingInner": 0, "paddingOuter": 0}, "axis": {"orient": "bottom", "title": "Genotype", "domain": false, "ticks": false, "tickSize": 0, "labelAngle": 0, "labelPadding": 48, "labelBaseline": "middle", "titleX": -87, "titleY": 48, "titleAlign": "left", "titleBaseline": "middle", "titleAnchor": "start"}}, "x2": {"field": "genotype", "bandPosition": 0.915}, "y": {"datum": -1.846}}},
{"mark": {"type": "rule", "stroke": "#555", "strokeWidth": 1.2}, "encoding": {"x": {"field": "genotype", "type": "nominal", "bandPosition": 0.03}, "y": {"datum": -1.846}, "y2": {"datum": -1.538}}},
{"mark": {"type": "rule", "stroke": "#555", "strokeWidth": 1.2}, "encoding": {"x": {"field": "genotype", "type": "nominal", "bandPosition": 0.915}, "y": {"datum": -1.846}, "y2": {"datum": -1.538}}},
{"transform": [{"filter": "datum.genotype !== 'Cont'"}], "mark": {"type": "rule", "strokeDash": [1.5, 2.5], "strokeWidth": 1.4, "stroke": "#444"}, "encoding": {"x": {"field": "genotype", "type": "nominal", "bandPosition": -0.03}, "y": {"datum": 12.431}, "y2": {"datum": -2.154}}}
]}
]
}
],
"config": {
"font": "Liberation Sans",
"view": {"stroke": null},
"axis": {"labelFontSize": 18, "titleFontSize": 18, "titleFontWeight": "normal", "labelColor": "#1a1a1a", "titleColor": "#1a1a1a", "domainColor": "#3a3a3a", "tickColor": "#3a3a3a", "domainWidth": 1.5, "tickWidth": 1.3, "tickSize": 5, "grid": false, "labelFont": "Liberation Sans", "titleFont": "Liberation Sans"},
"axisY": {"titlePadding": 9, "labelPadding": 3, "titleFontSize": 17.5},
"title": {"fontSize": 25, "fontWeight": "bold", "anchor": "start", "frame": "group", "color": "#111", "font": "Liberation Sans"},
"rule": {"stroke": "#3a3a3a", "strokeWidth": 1.3},
"text": {"fontSize": 18, "fontStyle": "italic", "color": "#1a1a1a", "font": "Liberation Sans"}
}
}
